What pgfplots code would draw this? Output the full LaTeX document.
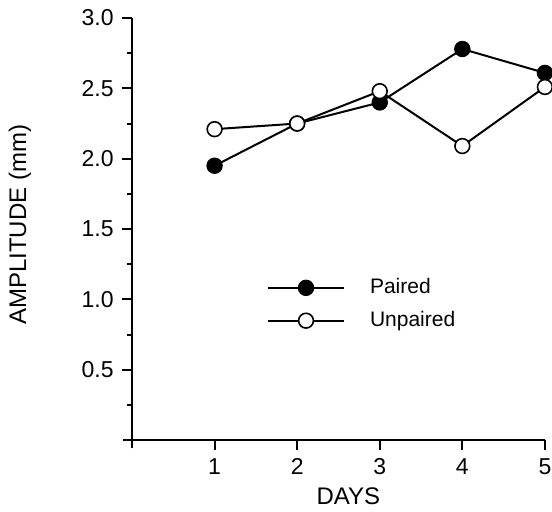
\documentclass[border=0pt]{standalone}
\usepackage{fontspec}
\setmainfont{Liberation Sans}
\usepackage{pgfplots}
\pgfplotsset{compat=1.18}

\pgfplotstableread{
day paired unpaired
1 1.95 2.21
2 2.25 2.25
3 2.40 2.48
4 2.78 2.09
5 2.61 2.51
}\amptable

\begin{document}
\fontsize{12}{14}\selectfont
\begin{tikzpicture}
\begin{axis}[
  name=ax,
  anchor=origin, at={(0pt,0pt)},
  scale only axis,
  width=211pt, height=215.2pt,
  xmin=-0.11, xmax=5, ymin=-0.06, ymax=3,
  axis lines=middle,
  axis line style={-, line width=1.2pt},
  clip=false,
  xtick={1,2,3,4,5},
  ytick={0.5,1,1.5,2,2.5,3},
  minor ytick={0.25,0.75,1.25,1.75,2.25,2.75},
  tick align=outside,
  major tick length=5pt,
  minor tick length=2.5pt,
  tick style={line width=1pt, black},
  ticklabel style={font=\fontsize{11.5}{13}\selectfont},
  /pgf/number format/assume math mode=true,
  yticklabel style={/pgf/number format/fixed, /pgf/number format/fixed zerofill, /pgf/number format/precision=1},
  xlabel={DAYS},
  ylabel={AMPLITUDE (mm)},
  every axis x label/.style={at={(axis cs:2.62,0)}, yshift=-28pt, anchor=center},
  every axis y label/.style={at={(axis cs:0,1.53)}, xshift=-56pt, anchor=center, rotate=90},
  legend style={draw=none, fill=none, at={(axis cs:1.63,1.18)}, anchor=north west,
    inner sep=0pt, row sep=3pt, nodes={inner xsep=12.5pt}, font=\fontsize{10.5}{12}\selectfont},
  legend cell align=left,
  legend image code/.code={\draw[mark repeat=2, mark phase=2, #1] plot coordinates {(0pt,0pt) (19pt,0pt) (38pt,0pt)};},
]
\addplot[black, line width=1pt, mark=*, mark size=3.7pt, mark options={fill=black, line width=0.8pt}]
  table[x=day, y=paired] {\amptable};
\addlegendentry{Paired}
\addplot[black, line width=1pt, mark=*, mark size=3.7pt, mark options={fill=white, line width=0.8pt}]
  table[x=day, y=unpaired] {\amptable};
\addlegendentry{Unpaired}
\end{axis}
\pgfresetboundingbox
\useasboundingbox (-66pt,-35.5pt) rectangle (210pt,220pt);
\end{tikzpicture}
\end{document}
